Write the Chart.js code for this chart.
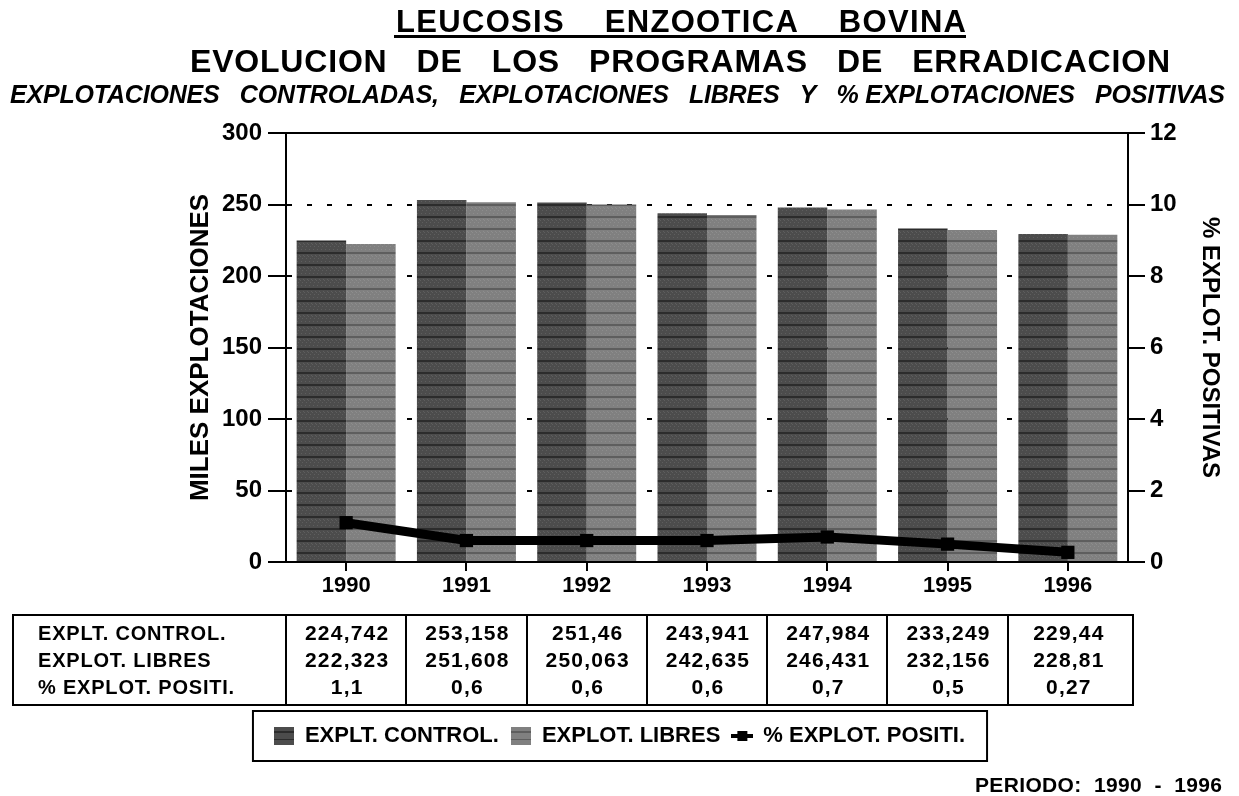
<!DOCTYPE html>
<html>
<head>
<meta charset="utf-8">
<script src="https://cdn.jsdelivr.net/npm/chart.js@4.4.0/dist/chart.umd.min.js"></script>
<style>
  html, body { margin: 0; padding: 0; background: #fff; }
  canvas { display: block; }
</style>
</head>
<body>
<canvas id="myChart" width="1239" height="796"></canvas>
<script>
// data
var years = ['1990', '1991', '1992', '1993', '1994', '1995', '1996'];
var explControl = [224.742, 253.158, 251.46, 243.941, 247.984, 233.249, 229.44];
var explLibres = [222.323, 251.608, 250.063, 242.635, 246.431, 232.156, 228.81];
var pctPositivas = [1.1, 0.6, 0.6, 0.6, 0.7, 0.5, 0.27];
var seriesNames = ['EXPLT. CONTROL.', 'EXPLOT. LIBRES', '% EXPLOT. POSITI.'];
var leftTicks = [0, 50, 100, 150, 200, 250, 300];
var rightTicks = [0, 2, 4, 6, 8, 10, 12];

var FONT = '"Liberation Sans", Arial, sans-serif';
var PAD_B = 39;

function barPattern(base, line) {
    var c = document.createElement('canvas');
    c.width = 4; c.height = 12;
    var g = c.getContext('2d');
    g.fillStyle = base; g.fillRect(0, 0, 4, 12);
    g.fillStyle = line; g.fillRect(0, 0, 4, 2);
    g.fillStyle = 'rgba(255,255,255,0.10)';
    g.fillRect(0, 4, 1, 1); g.fillRect(2, 6, 1, 1); g.fillRect(1, 9, 1, 1); g.fillRect(3, 3, 1, 1);
    return c;
}
function barIcon(base, line) {
    var c = document.createElement('canvas');
    c.width = 20; c.height = 18;
    var g = c.getContext('2d');
    g.fillStyle = base; g.fillRect(0, 0, 20, 18);
    g.fillStyle = line; g.fillRect(0, 4, 20, 2); g.fillRect(0, 12, 20, 1);
    return c;
}
function lineIcon() {
    var c = document.createElement('canvas');
    c.width = 22; c.height = 12;
    var g = c.getContext('2d');
    g.fillStyle = '#000';
    g.fillRect(0, 4, 22, 4);
    g.fillRect(6, 1, 10, 10);
    return c;
}

var ctx = document.getElementById('myChart').getContext('2d');
var darkFill = ctx.createPattern(barPattern('#4c4c4c', '#2c2c2c'), 'repeat');
var lightFill = ctx.createPattern(barPattern('#808080', '#5e5e5e'), 'repeat');
var legendIcons = [barIcon('#4c4c4c', '#2c2c2c'), barIcon('#808080', '#5e5e5e'), lineIcon()];

function fmt(v) { return String(v).replace('.', ','); }

function fitText(c, font, text, x, y, width) {
    c.font = font;
    c.letterSpacing = '0px';
    var w = c.measureText(text).width;
    var ls = (width - w) / (text.length - 1);
    c.letterSpacing = ls + 'px';
    c.fillText(text, x, y);
    c.letterSpacing = '0px';
}

var titlesPlugin = {
    id: 'titles',
    afterDraw: function(chart) {
        var c = chart.ctx;
        c.save();
        c.fillStyle = '#000';
        c.textAlign = 'left';
        c.textBaseline = 'alphabetic';
        fitText(c, 'bold 31px ' + FONT, 'LEUCOSIS    ENZOOTICA    BOVINA', 396, 32, 570);
        c.fillRect(394, 35, 572, 3);
        fitText(c, 'bold 32px ' + FONT, 'EVOLUCION   DE   LOS   PROGRAMAS   DE   ERRADICACION', 190, 72, 980);
        fitText(c, 'italic bold 25px ' + FONT,
            'EXPLOTACIONES   CONTROLADAS,   EXPLOTACIONES   LIBRES   Y   % EXPLOTACIONES   POSITIVAS', 10, 103, 1215);
        fitText(c, 'bold 21px ' + FONT, 'PERIODO:  1990  -  1996', 975, 792, 247);
        c.restore();
    }
};

var framePlugin = {
    id: 'frame',
    beforeDatasetsDraw: function(chart) {
        var a = chart.chartArea, c = chart.ctx;
        c.save();
        c.strokeStyle = '#000';
        c.lineWidth = 2;
        c.beginPath();
        c.moveTo(a.left, a.top);
        c.lineTo(a.right + 1, a.top);
        c.stroke();
        c.restore();
    }
};

var tablePlugin = {
    id: 'dataTable',
    afterDraw: function(chart) {
        var x = chart.scales.x, a = chart.chartArea, c = chart.ctx;
        var rows = [explControl, explLibres, pctPositivas];
        var top = a.bottom + 53, rowH = 30, left = 13, right = x.right + 5;
        var step = x.getPixelForValue(1) - x.getPixelForValue(0);
        c.save();
        c.strokeStyle = '#000';
        c.lineWidth = 2;
        c.strokeRect(left, top, right - left, rowH * 3);
        c.beginPath();
        for (var i = 0; i < years.length; i++) {
            var bx = Math.round(x.getPixelForValue(i) - step / 2);
            c.moveTo(bx, top);
            c.lineTo(bx, top + rowH * 3);
        }
        c.stroke();
        c.fillStyle = '#000';
        c.textBaseline = 'middle';
        for (var r = 0; r < rows.length; r++) {
            var y = top + 19 + r * 27;
            c.textAlign = 'left';
            c.font = 'bold 20px ' + FONT;
            c.letterSpacing = '0.8px';
            c.fillText(seriesNames[r], left + 25, y);
            c.textAlign = 'center';
            c.font = 'bold 21px ' + FONT;
            c.letterSpacing = '1.2px';
            for (var j = 0; j < years.length; j++) {
                c.fillText(fmt(rows[r][j]), x.getPixelForValue(j) + 1, y);
            }
        }
        c.letterSpacing = '0px';
        c.restore();
    }
};

var legendBoxPlugin = {
    id: 'legendBox',
    afterDraw: function(chart) {
        var lg = chart.legend, hb = lg.legendHitBoxes;
        if (!hb || !hb.length) return;
        var last = hb[hb.length - 1];
        var left = hb[0].left - 21, right = last.left + last.width + 22;
        var cy = hb[0].top + hb[0].height / 2;
        var c = chart.ctx;
        c.save();
        c.strokeStyle = '#000';
        c.lineWidth = 2;
        c.strokeRect(left, cy - 25, right - left, 50);
        c.restore();
    }
};

var myChart = new Chart(ctx, {
    type: 'bar',
    data: {
        labels: years,
        datasets: [{
            label: seriesNames[0],
            data: explControl,
            backgroundColor: darkFill,
            borderWidth: 0,
            yAxisID: 'y',
            order: 1
        }, {
            label: seriesNames[1],
            data: explLibres,
            backgroundColor: lightFill,
            borderWidth: 0,
            yAxisID: 'y',
            order: 1
        }, {
            type: 'line',
            label: seriesNames[2],
            data: pctPositivas,
            borderColor: '#000',
            backgroundColor: '#000',
            borderWidth: 9,
            pointStyle: 'rect',
            pointRadius: 3,
            tension: 0,
            yAxisID: 'y1',
            order: 0
        }]
    },
    options: {
        responsive: false,
        devicePixelRatio: 1,
        animation: false,
        layout: { padding: { top: 133, left: 0, right: 0, bottom: PAD_B } },
        datasets: { bar: { categoryPercentage: 0.823, barPercentage: 1.0 } },
        plugins: {
            tooltip: { enabled: false },
            legend: {
                position: 'bottom',
                labels: {
                    usePointStyle: true,
                    pointStyleWidth: 20,
                    padding: 12,
                    color: '#000',
                    font: { family: FONT, size: 22, weight: 'bold' },
                    generateLabels: function(chart) {
                        return chart.data.datasets.map(function(ds, i) {
                            return {
                                text: ds.label,
                                pointStyle: legendIcons[i],
                                fillStyle: '#000',
                                strokeStyle: '#000',
                                lineWidth: 0,
                                hidden: false,
                                fontColor: '#000',
                                datasetIndex: i
                            };
                        });
                    }
                }
            }
        },
        scales: {
            x: {
                grid: { display: true, drawOnChartArea: false, offset: false, color: '#000', lineWidth: 2, tickLength: 9, tickBorderDash: [] },
                border: { color: '#000', width: 2 },
                ticks: { color: '#000', font: { family: FONT, size: 22, weight: 'bold' }, padding: 2 },
                afterFit: function(scale) {
                    var lh = (scale.chart.legend && scale.chart.legend.height) || 50;
                    scale.height = scale.chart.height - 562 - PAD_B - lh;
                }
            },
            y: {
                position: 'left',
                min: 0, max: 300,
                afterBuildTicks: function(scale) {
                    scale.ticks = leftTicks.map(function(v) { return { value: v }; });
                },
                grid: { color: '#000', lineWidth: 2, tickLength: 18, tickBorderDash: [] },
                border: { color: '#000', width: 2, dash: [5, 15] },
                ticks: { color: '#000', font: { family: FONT, size: 24, weight: 'bold' }, padding: 6 },
                title: {
                    display: true,
                    text: 'MILES EXPLOTACIONES',
                    color: '#000',
                    font: { family: FONT, size: 26, weight: 'bold' },
                    padding: { top: 185, bottom: 0 }
                },
                afterFit: function(scale) { scale.width = 286; }
            },
            y1: {
                position: 'right',
                min: 0, max: 12,
                afterBuildTicks: function(scale) {
                    scale.ticks = rightTicks.map(function(v) { return { value: v }; });
                },
                grid: { drawOnChartArea: false, color: '#000', lineWidth: 2, tickLength: 17, tickBorderDash: [] },
                border: { color: '#000', width: 2 },
                ticks: { color: '#000', font: { family: FONT, size: 24, weight: 'bold' }, padding: 5 },
                title: {
                    display: true,
                    text: '% EXPLOT. POSITIVAS',
                    color: '#000',
                    font: { family: FONT, size: 24, weight: 'bold' },
                    padding: { top: 15, bottom: 0 }
                },
                afterFit: function(scale) { scale.width = 111; }
            }
        }
    },
    plugins: [framePlugin, titlesPlugin, tablePlugin, legendBoxPlugin]
});
</script>
</body>
</html>
